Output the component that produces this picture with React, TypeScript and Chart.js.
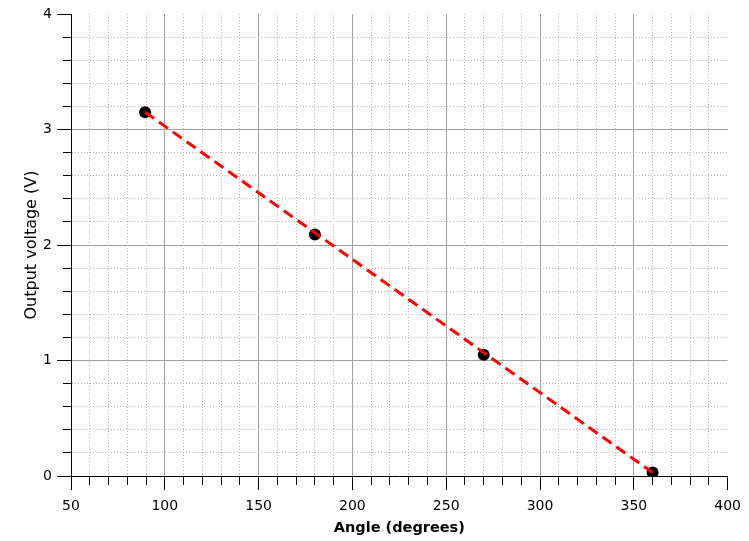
import { useEffect, useRef } from 'react';
import { Chart, registerables } from 'chart.js';

Chart.register(...registerables);

// measured points (angle in degrees, output in volts)
const angles = [89.5, 180, 270, 360];
const volts = [3.15, 2.09, 1.05, 0.03];

// straight fit line, end points
const fitAngles = [89.5, 360];
const fitVolts = [3.15, 0.03];

const X_MIN = 50;
const X_MAX = 400;
const Y_MIN = 0;
const Y_MAX = 4;

const isMajorX = (v: number) => Math.abs(v % 50) < 1e-6;
const isMajorY = (v: number) => Math.abs(v - Math.round(v)) < 1e-6;

export default function App() {
  const canvasRef = useRef<HTMLCanvasElement>(null);
  const chartRef = useRef<Chart | null>(null);

  useEffect(() => {
    if (!canvasRef.current) return;
    if (chartRef.current) chartRef.current.destroy();

    Chart.defaults.font.family = "'DejaVu Sans', sans-serif";

    chartRef.current = new Chart(canvasRef.current, {
      type: 'scatter',
      data: {
        datasets: [
          {
            label: 'Fit',
            data: fitAngles.map((x, i) => ({ x, y: fitVolts[i] })),
            showLine: true,
            borderColor: '#ff0000',
            borderWidth: 3,
            borderDash: [11, 6],
            pointRadius: 0,
            fill: false,
          },
          {
            label: 'Measured',
            data: angles.map((x, i) => ({ x, y: volts[i] })),
            showLine: false,
            backgroundColor: '#000000',
            borderColor: '#000000',
            borderWidth: 0,
            pointRadius: 6,
          },
        ],
      },
      options: {
        animation: false,
        responsive: true,
        maintainAspectRatio: false,
        layout: { padding: { top: 14, right: 20, left: 0, bottom: 0 } },
        plugins: {
          legend: { display: false },
          tooltip: { enabled: false },
        },
        scales: {
          x: {
            type: 'linear',
            min: X_MIN,
            max: X_MAX,
            afterFit: (scale: any) => {
              scale.height = 65;
            },
            ticks: {
              stepSize: 10,
              autoSkip: false,
              maxRotation: 0,
              padding: 8,
              color: '#000',
              font: { size: 14 },
              callback: (v: any) => (isMajorX(Number(v)) ? String(v) : ''),
            },
            grid: {
              color: (ctx: any) => {
                const v = ctx.tick ? ctx.tick.value : 0;
                if (v === X_MAX) return 'rgba(0,0,0,0)';
                return isMajorX(v) ? '#a0a0a0' : '#b4b4b4';
              },
              lineWidth: 1,
              tickLength: 14,
              tickColor: '#000',
              tickWidth: 1,
              tickBorderDash: (ctx: any) =>
                ctx.tick && !isMajorX(ctx.tick.value) ? [8, 100] : [],
            },
            border: {
              display: true,
              color: '#000',
              width: 1,
              dash: (ctx: any) =>
                ctx.tick && !isMajorX(ctx.tick.value) ? [1, 2] : [],
            },
            title: {
              display: true,
              text: 'Angle (degrees)',
              color: '#000',
              font: { size: 14.5, weight: 'bold' },
              padding: { top: 0, bottom: 4 },
            },
          },
          y: {
            type: 'linear',
            min: Y_MIN,
            max: Y_MAX,
            afterFit: (scale: any) => {
              scale.width = 71;
            },
            ticks: {
              stepSize: 0.2,
              autoSkip: false,
              padding: 5,
              color: '#000',
              font: { size: 14 },
              callback: (v: any) =>
                isMajorY(Number(v)) ? String(Math.round(Number(v))) : '',
            },
            grid: {
              color: (ctx: any) => {
                const v = ctx.tick ? ctx.tick.value : 0;
                if (Math.abs(v - Y_MAX) < 1e-6) return 'rgba(0,0,0,0)';
                return isMajorY(v) ? '#a0a0a0' : '#b4b4b4';
              },
              lineWidth: 1,
              tickLength: 14,
              tickColor: '#000',
              tickWidth: 1,
              // left ticks are drawn from the outer end inward
              tickBorderDash: (ctx: any) =>
                ctx.tick && !isMajorY(ctx.tick.value) ? [0, 6, 8, 100] : [],
            },
            border: {
              display: true,
              color: '#000',
              width: 1,
              dash: (ctx: any) =>
                ctx.tick && !isMajorY(ctx.tick.value) ? [1, 2] : [],
            },
            title: {
              display: true,
              text: 'Output voltage (V)',
              color: '#000',
              font: { size: 16, weight: 'normal' },
              padding: { top: 22, bottom: 0 },
            },
          },
        },
      },
    } as any);

    return () => {
      if (chartRef.current) {
        chartRef.current.destroy();
        chartRef.current = null;
      }
    };
  }, []);

  return (
    <div style={{ position: 'absolute', left: 0, top: 0, width: '749px', height: '541px', background: '#fff' }}>
      <canvas ref={canvasRef} />
    </div>
  );
}
